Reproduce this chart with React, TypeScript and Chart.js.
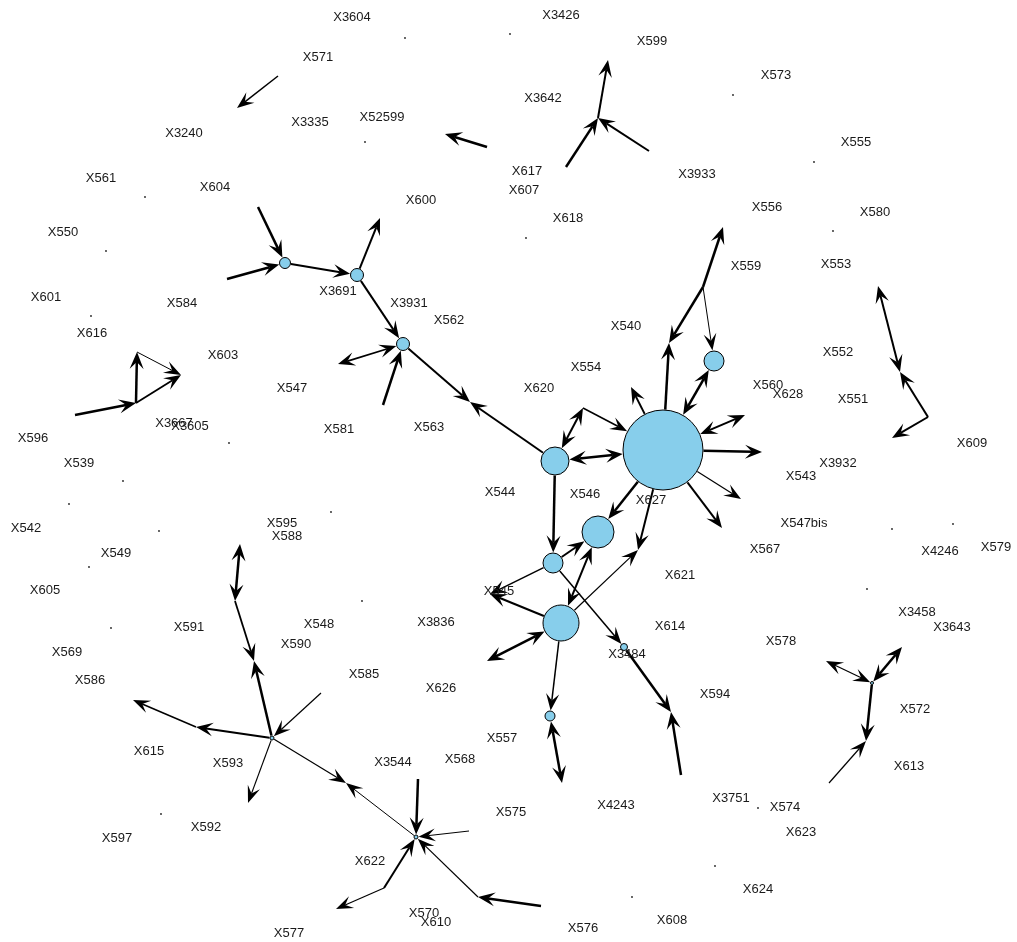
import React, { useEffect, useRef } from "react";
import { Chart, registerables } from "chart.js";

Chart.register(...registerables);

// ---- Nodes of the network (layout coordinates, radius) ----
const nodeKeys = [
  "hub", "n620", "n546", "n553", "n560", "n716", "n3484", "n714", "n3931", "n3691", "n604", "nS", "n622", "hC",
  "a1", "a2", "b1", "b2", "c1", "cP", "c2", "c3",
  "d1", "d2", "d3", "d4", "d5", "dM",
  "e1", "e2", "e3", "e4",
  "f1", "f2", "f3", "f4", "f5", "f6", "f7", "f8",
  "g1", "g2", "gY", "g3", "gZ", "g4",
  "h1", "h2", "h3", "h4",
  "i1", "iM", "i2", "i3",
  "jJ", "j1", "jK", "j2", "j3", "j4", "j5", "j6", "jL", "jP",
  "kP", "kQ", "k1", "k2", "k3",
];
const nodeX = [
  663, 555, 598, 553, 561, 550, 624, 714, 403, 357, 285, 272, 416, 872,
  278, 237, 487, 445, 566, 598, 649, 608,
  258, 227, 380, 338, 383, 470,
  75, 136, 137, 181,
  240, 235, 254, 321, 196, 133, 248, 346,
  418, 469, 478, 541, 384, 336,
  826, 902, 866, 829,
  878, 900, 928, 892,
  703, 723, 669, 631, 745, 762, 741, 722, 638, 583,
  490, 671, 681, 487, 562,
];
const nodeY = [
  450, 461, 532, 563, 623, 716, 647, 361, 344, 275, 263, 738, 837, 683,
  76, 108, 147, 134, 167, 118, 151, 60,
  207, 279, 218, 364, 405, 402,
  415, 403, 352, 375,
  544, 601, 661, 693, 727, 700, 803, 783,
  779, 831, 897, 906, 888, 909,
  661, 647, 741, 783,
  286, 372, 417, 438,
  287, 227, 343, 387, 415, 452, 499, 528, 550, 408,
  594, 712, 775, 661, 783,
];
const nodeR = [
  40, 14, 16, 10, 18, 5, 3.5, 10, 6.5, 6.5, 5.5, 2, 2, 1.5,
  0, 0, 0, 0, 0, 0, 0, 0,
  0, 0, 0, 0, 0, 0,
  0, 0, 0, 0,
  0, 0, 0, 0, 0, 0, 0, 0,
  0, 0, 0, 0, 0, 0,
  0, 0, 0, 0,
  0, 0, 0, 0,
  0, 0, 0, 0, 0, 0, 0, 0, 0, 0,
  0, 0, 0, 0, 0,
];

// ---- Edges ----
const edgeFrom = [
  "a1", "b1",
  "c1", "c2", "cP",
  "d1", "d2", "n604", "n3691", "n3691", "n3931", "d5", "n3931", "n620",
  "e1", "e2", "e2", "e3",
  "f1", "f2", "nS", "f4", "nS", "f5", "nS", "nS", "n622",
  "g1", "g2", "gY", "g3", "gZ", "gZ",
  "hC", "hC", "hC", "h4",
  "i1", "i2", "i2",
  "jJ", "jJ", "jJ", "hub", "n714", "hub", "hub", "hub", "hub", "hub", "hub", "hub", "n560",
  "n620", "jP", "jP", "n620", "n553", "n553", "n560", "n553", "n3484", "k1",
  "n560", "n560", "n560", "n716",
];
const edgeTo = [
  "a2", "b2",
  "cP", "cP", "c3",
  "n604", "n604", "n3691", "d3", "n3931", "d4", "n3931", "dM", "dM",
  "e2", "e3", "e4", "e4",
  "f2", "f3", "f3", "nS", "f5", "f6", "f7", "f8", "f8",
  "n622", "n622", "n622", "gY", "n622", "g4",
  "h1", "h2", "h3", "h3",
  "iM", "iM", "i3",
  "j1", "n714", "jK", "jK", "hub", "j2", "j3", "j4", "j5", "j6", "n546", "jL", "jL",
  "hub", "n620", "hub", "n553", "n546", "kP", "kP", "n3484", "kQ", "kQ",
  "n546", "k2", "n716", "k3",
];
const edgeWidth = [
  1.5, 2.5,
  2.5, 2, 2,
  2.5, 2.5, 2, 2, 2, 1.8, 2.5, 2, 2,
  2.5, 2.5, 1.8, 1,
  2.5, 1.8, 2.5, 1.2, 2, 1.5, 1.2, 1.2, 1,
  2.5, 1, 1.2, 2.5, 2, 1.2,
  1.2, 2.5, 2.5, 1.2,
  2, 2, 2,
  2.5, 1, 2.5, 2.5, 2.5, 2, 2, 2.5, 1.2, 2, 2.5, 2, 1.2,
  2.5, 2, 1.5, 2.5, 2, 1.5, 2, 1.5, 2.5, 2.5,
  2, 2.5, 1.5, 2.5,
];
// 1 = arrow at target only, 2 = arrows at both ends
const edgeArrows = [
  1, 1,
  1, 1, 1,
  1, 1, 1, 1, 1, 2, 1, 1, 1,
  1, 1, 1, 1,
  2, 1, 1, 1, 1, 1, 1, 1, 1,
  1, 1, 1, 1, 1, 1,
  2, 2, 1, 1,
  2, 1, 1,
  1, 1, 1, 1, 2, 1, 2, 1, 1, 1, 1, 1, 1,
  2, 2, 1, 1, 1, 1, 1, 1, 1, 1,
  2, 2, 1, 2,
];

// ---- Isolated vertices (drawn as tiny dots) ----
const dotX = [145, 106, 405, 510, 365, 526, 733, 814, 833, 91, 229, 123, 69, 159, 89, 331, 111, 161, 632, 758, 715, 892, 953, 867, 362];
const dotY = [197, 251, 38, 34, 142, 238, 95, 162, 231, 316, 443, 481, 504, 531, 567, 512, 628, 814, 897, 808, 866, 529, 524, 589, 601];

// ---- Vertex labels ----
const labelNames = [
  "X3604", "X3426", "X599", "X571", "X573", "X3642", "X3240", "X3335", "X52599", "X555",
  "X561", "X604", "X617", "X607", "X3933", "X556", "X580", "X600", "X618", "X550",
  "X559", "X553", "X3691", "X601", "X584", "X3931", "X562", "X616", "X540", "X552",
  "X603", "X554", "X547", "X620", "X560", "X628", "X551", "X3667", "X3605", "X581",
  "X563", "X596", "X609", "X539", "X3932", "X543", "X627", "X544", "X546", "X542",
  "X595", "X588", "X547bis", "X549", "X567", "X4246", "X579", "X621", "X605", "X545",
  "X591", "X548", "X3836", "X614", "X3458", "X3643", "X3484", "X578", "X590", "X569",
  "X586", "X585", "X626", "X594", "X572", "X615", "X557", "X593", "X3544", "X568",
  "X613", "X3751", "X574", "X4243", "X575", "X623", "X592", "X597", "X622", "X624",
  "X570", "X610", "X576", "X608", "X577",
];
const labelX = [
  352, 561, 652, 318, 776, 543, 184, 310, 382, 856,
  101, 215, 527, 524, 697, 767, 875, 421, 568, 63,
  746, 836, 338, 46, 182, 409, 449, 92, 626, 838,
  223, 586, 292, 539, 768, 788, 853, 174, 190, 339,
  429, 33, 972, 79, 838, 801, 651, 500, 585, 26,
  282, 287, 804, 116, 765, 940, 996, 680, 45, 499,
  189, 319, 436, 670, 917, 952, 627, 781, 296, 67,
  90, 364, 441, 715, 915, 149, 502, 228, 393, 460,
  909, 731, 785, 616, 511, 801, 206, 117, 370, 758,
  424, 436, 583, 672, 289,
];
const labelY = [
  17, 15, 41, 57, 75, 98, 133, 122, 117, 142,
  178, 187, 171, 190, 174, 207, 212, 200, 218, 232,
  266, 264, 291, 297, 303, 303, 320, 333, 326, 352,
  355, 367, 388, 388, 385, 394, 399, 423, 426, 429,
  427, 438, 443, 463, 463, 476, 500, 492, 494, 528,
  523, 536, 523, 553, 549, 551, 547, 575, 590, 591,
  627, 624, 622, 626, 612, 627, 654, 641, 644, 652,
  680, 674, 688, 694, 709, 751, 738, 763, 762, 759,
  766, 798, 807, 805, 812, 832, 827, 838, 861, 889,
  913, 922, 928, 920, 933,
];

const W = 1017;
const H = 942;

const networkPlugin = {
  id: "network",
  beforeDatasetsDraw(chart: any) {
    const { ctx, scales } = chart;
    const sx = scales.x;
    const sy = scales.y;
    const idx: Record<string, number> = {};
    nodeKeys.forEach((k, i) => (idx[k] = i));
    const px = (i: number) => sx.getPixelForValue(nodeX[i]);
    const py = (i: number) => sy.getPixelForValue(nodeY[i]);
    const headLen = 17;
    const headW = 6;
    const notch = 7;
    const drawHead = (tx: number, ty: number, ux: number, uy: number, lw: number) => {
      const nx = -uy;
      const ny = ux;
      const w = headW + lw * 0.4;
      ctx.beginPath();
      ctx.moveTo(tx, ty);
      ctx.lineTo(tx - headLen * ux + w * nx, ty - headLen * uy + w * ny);
      ctx.lineTo(tx - (headLen - notch) * ux, ty - (headLen - notch) * uy);
      ctx.lineTo(tx - headLen * ux - w * nx, ty - headLen * uy - w * ny);
      ctx.closePath();
      ctx.fill();
    };
    ctx.save();
    ctx.strokeStyle = "#000";
    ctx.fillStyle = "#000";
    ctx.lineCap = "butt";
    for (let e = 0; e < edgeFrom.length; e++) {
      const a = idx[edgeFrom[e]];
      const b = idx[edgeTo[e]];
      const x1 = px(a), y1 = py(a), x2 = px(b), y2 = py(b);
      const dx = x2 - x1, dy = y2 - y1;
      const len = Math.hypot(dx, dy);
      if (len < 1) continue;
      const ux = dx / len, uy = dy / len;
      const ra = nodeR[a] > 0 ? nodeR[a] + 0.5 : 0;
      const rb = nodeR[b] > 0 ? nodeR[b] + 0.5 : 0;
      const sX = x1 + ux * ra, sY = y1 + uy * ra;
      const tX = x2 - ux * rb, tY = y2 - uy * rb;
      const both = edgeArrows[e] === 2;
      const lw = edgeWidth[e];
      const lsX = both ? sX + ux * (headLen - notch) : sX;
      const lsY = both ? sY + uy * (headLen - notch) : sY;
      const leX = tX - ux * (headLen - notch);
      const leY = tY - uy * (headLen - notch);
      ctx.lineWidth = lw;
      ctx.beginPath();
      ctx.moveTo(lsX, lsY);
      ctx.lineTo(leX, leY);
      ctx.stroke();
      drawHead(tX, tY, ux, uy, lw);
      if (both) drawHead(sX, sY, -ux, -uy, lw);
    }
    ctx.restore();
  },
  afterDatasetsDraw(chart: any) {
    const { ctx, scales } = chart;
    ctx.save();
    ctx.font = '13px "Liberation Sans", Arial, sans-serif';
    ctx.fillStyle = "#1a1a1a";
    ctx.textAlign = "center";
    ctx.textBaseline = "middle";
    for (let i = 0; i < labelNames.length; i++) {
      ctx.fillText(
        labelNames[i],
        scales.x.getPixelForValue(labelX[i]),
        scales.y.getPixelForValue(labelY[i])
      );
    }
    ctx.restore();
  },
};

export default function App() {
  const ref = useRef<HTMLCanvasElement | null>(null);
  useEffect(() => {
    if (!ref.current) return;
    const visible = nodeKeys
      .map((k, i) => ({ x: nodeX[i], y: nodeY[i], r: nodeR[i] }))
      .filter((p) => p.r > 0);
    const dots = dotX.map((x, i) => ({ x, y: dotY[i], r: 0.9 }));
    const chart = new Chart(ref.current, {
      type: "bubble",
      data: {
        datasets: [
          {
            label: "vertices",
            data: visible,
            backgroundColor: "#87CEEB",
            borderColor: "#000",
            borderWidth: 1,
            clip: false,
          },
          {
            label: "isolated",
            data: dots,
            backgroundColor: "#222",
            borderWidth: 0,
            clip: false,
          },
        ],
      },
      options: {
        responsive: false,
        animation: false,
        events: [],
        layout: { padding: 0, autoPadding: false },
        scales: {
          x: { type: "linear", min: 0, max: W, display: false },
          y: { type: "linear", min: 0, max: H, reverse: true, display: false },
        },
        plugins: {
          legend: { display: false },
          tooltip: { enabled: false },
        },
      },
      plugins: [networkPlugin],
    });
    return () => chart.destroy();
  }, []);
  return (
    <div style={{ position: "fixed", left: 0, top: 0, width: W, height: H, background: "#fff" }}>
      <canvas ref={ref} width={W} height={H} style={{ display: "block" }} />
    </div>
  );
}
